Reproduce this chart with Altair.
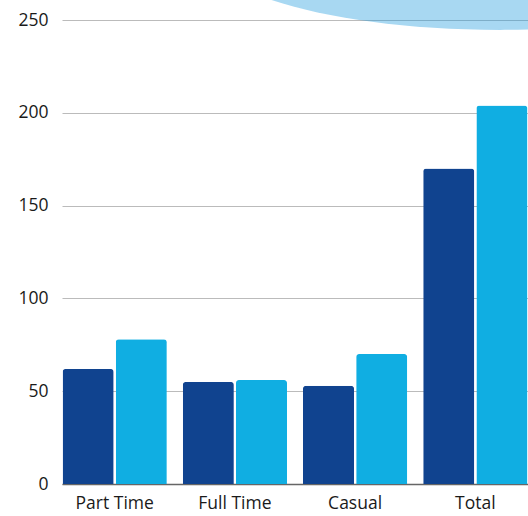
import altair as alt
import pandas as pd

categories = ["Part Time", "Full Time", "Casual", "Total"]
series_a = [62, 55, 53, 170]
series_b = [78, 56, 70, 204]
series_names = ["A", "B"]
colors = ["#10438f", "#10aee2"]

rows = []
for c, a, b in zip(categories, series_a, series_b):
    rows.append({"cat": c, "series": series_names[0], "value": a})
    rows.append({"cat": c, "series": series_names[1], "value": b})
df = pd.DataFrame(rows)

FONT = "Open Sans"

bars = alt.Chart(df).mark_bar(cornerRadiusTopLeft=3, cornerRadiusTopRight=3).encode(
    x=alt.X("cat:N", sort=categories, title=None,
            scale=alt.Scale(paddingInner=0.133, paddingOuter=0.005),
            axis=alt.Axis(labelAngle=0, labelFontSize=17.5, labelColor="#1a1a1a",
                          labelFont=FONT, labelPadding=10, ticks=False,
                          domainColor="#666666", domainWidth=1.5, grid=False)),
    xOffset=alt.XOffset("series:N", scale=alt.Scale(paddingInner=0.04)),
    y=alt.Y("value:Q", title=None,
            scale=alt.Scale(domain=[0, 250]),
            axis=alt.Axis(values=[0, 50, 100, 150, 200, 250], labelFontSize=17.5,
                          labelColor="#1a1a1a", labelFont=FONT, labelPadding=14,
                          ticks=False, domain=False, gridColor="#bbbbbb",
                          gridWidth=1)),
    color=alt.Color("series:N", scale=alt.Scale(domain=series_names, range=colors),
                    legend=None),
)

ellipse = alt.Chart(pd.DataFrame({"d": [0]})).mark_point(
    shape="M-1,0 A1,0.283 0 1,0 1,0 A1,0.283 0 1,0 -1,0 Z",
    filled=True, color="#1a99dd", opacity=0.38, strokeWidth=0,
).encode(
    x=alt.value(438), y=alt.value(-75), size=alt.value(360000)
)

chart = alt.layer(bars, ellipse).properties(
    width=466, height=464,
    autosize=alt.AutoSizeParams(type="none"),
    padding={"left": 62, "top": 20, "right": 0, "bottom": 32},
).configure_view(stroke=None)

chart.save("out.html", embed_options={"renderer": "svg", "actions": False})
